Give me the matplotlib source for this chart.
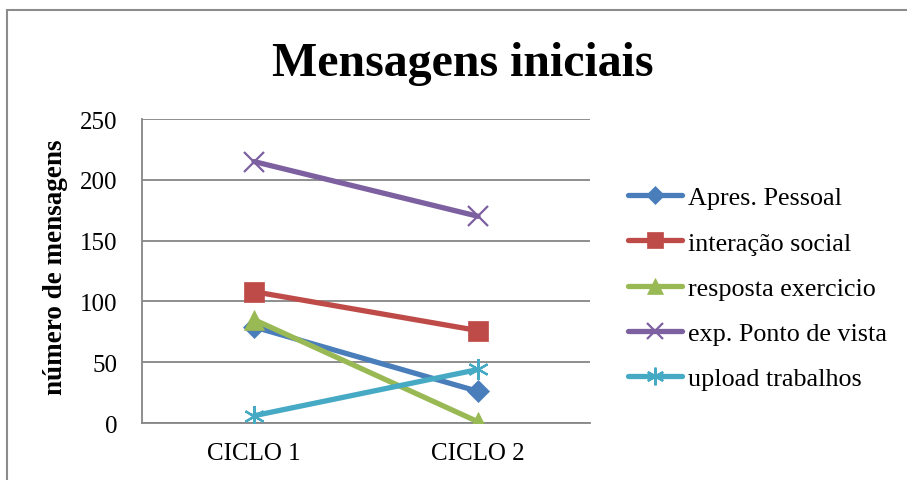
import matplotlib.pyplot as plt
from matplotlib.patches import Rectangle

ciclos = ["CICLO 1", "CICLO 2"]
apres_pessoal = [79, 26]
interacao_social = [108, 76]
resposta_exercicio = [85, 1]
ponto_de_vista = [215, 170]
upload_trabalhos = [6, 44]

series = [
    ("Apres. Pessoal", apres_pessoal, "#4A7EBB", "D", 11),
    ("interação social", interacao_social, "#BE4B48", "s", 14),
    ("resposta exercicio", resposta_exercicio, "#98B954", "^", 14),
    ("exp. Ponto de vista", ponto_de_vista, "#7D60A0", "x", 14),
    ("upload trabalhos", upload_trabalhos, "#46AAC5", (6, 2, 0), 15),
]

plt.rcParams["font.family"] = ["Liberation Serif", "DejaVu Serif"]

fig = plt.figure(figsize=(9.07, 4.81), dpi=100)
ax = fig.add_axes([0.1566, 0.1185, 0.4939, 0.632])

x = range(len(ciclos))
for name, vals, col, mk, ms in series:
    thin = mk in ("x", (6, 2, 0))
    ax.plot(x, vals, color=col, lw=3.8, marker=mk, markersize=ms,
            markeredgewidth=1.6 if thin else 0.5,
            markeredgecolor=col, markerfacecolor=col,
            solid_capstyle="round", label=name, zorder=3)

ax.set_xlim(-0.5, 1.5)
ax.set_ylim(0, 250)
ax.set_yticks(range(0, 251, 50))
ax.set_xticks(list(x))
ax.set_xticklabels(ciclos)
ax.tick_params(length=0, labelsize=18, colors="black")
ax.tick_params(axis="y", pad=18)
ax.tick_params(axis="x", pad=14)
ax.yaxis.grid(True, color="#868686", lw=1.3)
ax.set_axisbelow(True)
for s in ("top", "right"):
    ax.spines[s].set_visible(False)
for s in ("left", "bottom"):
    ax.spines[s].set_color("#868686")
    ax.spines[s].set_linewidth(1.3)

ax.set_ylabel("número de mensagens", fontsize=19.5, fontweight="bold")
ax.yaxis.set_label_coords(-0.165, 0.515)

fig.text(0.51, 0.867, "Mensagens iniciais", ha="center", va="center",
         fontsize=34.5, fontweight="bold")

ax.legend(loc="center left", bbox_to_anchor=(0.692, 0.399),
          bbox_transform=fig.transFigure, frameon=False, fontsize=18.8,
          handlelength=2.1, handletextpad=0.2, labelspacing=0.84,
          markerscale=0.85, borderpad=0, borderaxespad=0)

# chart area border
fig.patches.append(Rectangle((7 / 907, -0.1), 1.2, 1.1 - 11 / 481,
                             transform=fig.transFigure, fill=False,
                             edgecolor="#8c8c8c", lw=1.5))

fig.savefig("out.png", dpi=100)
